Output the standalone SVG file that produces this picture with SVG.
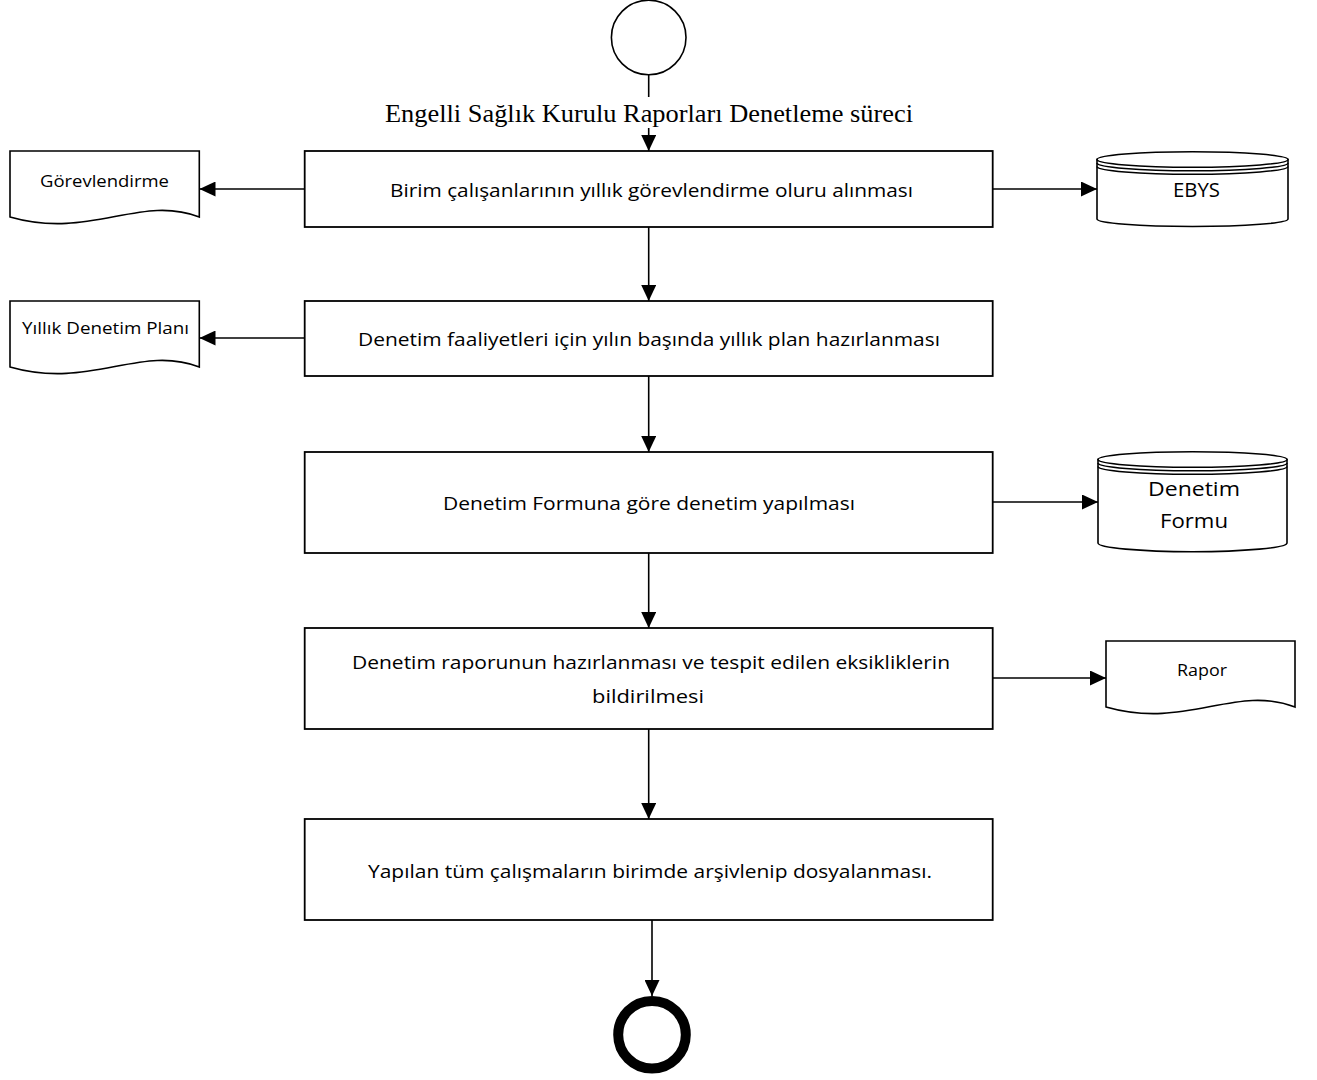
<svg xmlns="http://www.w3.org/2000/svg" width="1317" height="1080" viewBox="0 0 1317 1080">
<style>
.box{fill:#fff;stroke:#000;stroke-width:1.8}
.shape{fill:#fff;stroke:#000;stroke-width:1.6}
.line{fill:none;stroke:#000;stroke-width:1.6}
.t{font-family:"Open Sans","Noto Sans",sans-serif;font-size:18.5px;fill:#000;text-anchor:middle}
.s{font-family:"Open Sans","Noto Sans",sans-serif;font-size:16px;fill:#000;text-anchor:middle}
.c{font-family:"Open Sans","Noto Sans",sans-serif;font-size:20.5px;fill:#000;text-anchor:middle}
.title{font-family:"Liberation Serif","Times New Roman",serif;font-size:25px;fill:#000;text-anchor:middle}
</style>
<defs>
<marker id="arr" markerWidth="16" markerHeight="15" refX="16" refY="7.5" orient="auto" markerUnits="userSpaceOnUse">
<path d="M0,0 L16,7.5 L0,15 z" fill="#000"/>
</marker>
</defs>
<rect width="1317" height="1080" fill="#fff"/>

<g id="connectors">
<path class="line" d="M648.7,75 V151" marker-end="url(#arr)"/>
<rect x="380" y="97" width="540" height="31" fill="#fff"/>
<text class="title" x="649" y="122" textLength="528" lengthAdjust="spacingAndGlyphs">Engelli Sağlık Kurulu Raporları Denetleme süreci</text>
<path class="line" d="M304.7,189 H199.5" marker-end="url(#arr)"/>
<path class="line" d="M992.7,189 H1097" marker-end="url(#arr)"/>
<path class="line" d="M648.7,227 V301" marker-end="url(#arr)"/>
<path class="line" d="M304.7,338 H199.5" marker-end="url(#arr)"/>
<path class="line" d="M648.7,376 V452" marker-end="url(#arr)"/>
<path class="line" d="M992.7,502 H1098" marker-end="url(#arr)"/>
<path class="line" d="M648.7,553 V628" marker-end="url(#arr)"/>
<path class="line" d="M992.7,678 H1106" marker-end="url(#arr)"/>
<path class="line" d="M648.7,729 V819" marker-end="url(#arr)"/>
<path class="line" d="M652,920 V996" marker-end="url(#arr)"/>
</g>

<g id="start">
<circle cx="648.7" cy="37.5" r="37.3" class="shape"/>
</g>

<g id="box1">
<rect class="box" x="304.7" y="151" width="688" height="76"/>
<text class="t" x="651.5" y="197" textLength="523" lengthAdjust="spacingAndGlyphs">Birim çalışanlarının yıllık görevlendirme oluru alınması</text>
</g>
<g id="box2">
<rect class="box" x="304.7" y="301" width="688" height="75"/>
<text class="t" x="649" y="346" textLength="582" lengthAdjust="spacingAndGlyphs">Denetim faaliyetleri için yılın başında yıllık plan hazırlanması</text>
</g>
<g id="box3">
<rect class="box" x="304.7" y="452" width="688" height="101"/>
<text class="t" x="649" y="510" textLength="412" lengthAdjust="spacingAndGlyphs">Denetim Formuna göre denetim yapılması</text>
</g>
<g id="box4">
<rect class="box" x="304.7" y="628" width="688" height="101"/>
<text class="t" x="651" y="669" textLength="598" lengthAdjust="spacingAndGlyphs">Denetim raporunun hazırlanması ve tespit edilen eksikliklerin</text>
<text class="t" x="648" y="703" textLength="112" lengthAdjust="spacingAndGlyphs">bildirilmesi</text>
</g>
<g id="box5">
<rect class="box" x="304.7" y="819" width="688" height="101"/>
<text class="t" x="650" y="878" textLength="564" lengthAdjust="spacingAndGlyphs">Yapılan tüm çalışmaların birimde arşivlenip dosyalanması.</text>
</g>

<g id="doc-gorevlendirme">
<path class="shape" d="M10,151 H199.3 V217 C140,194 90,240 10,217 Z"/>
<text class="s" x="104.5" y="187" textLength="129" lengthAdjust="spacingAndGlyphs">Görevlendirme</text>
</g>
<g id="doc-plan">
<path class="shape" d="M10,301 H199.3 V367 C140,344 90,390 10,367 Z"/>
<text class="s" x="105.5" y="334" textLength="167" lengthAdjust="spacingAndGlyphs">Yıllık Denetim Planı</text>
</g>
<g id="doc-rapor">
<path class="shape" d="M1106,641 H1295 V707 C1235,684 1186,730 1106,707 Z"/>
<text class="s" x="1202" y="676" textLength="50" lengthAdjust="spacingAndGlyphs">Rapor</text>
</g>

<g id="db-ebys">
<path class="shape" d="M1097,159.5 V219 A95.5,7.5 0 0 0 1288,219 V159.5 Z"/>
<ellipse class="shape" cx="1192.5" cy="159.5" rx="95.5" ry="7.8"/>
<path class="line" d="M1097,163 A95.5,7.8 0 0 0 1288,163 M1097,166.5 A95.5,7.8 0 0 0 1288,166.5"/>
<text class="c" x="1196.5" y="197" textLength="47" lengthAdjust="spacingAndGlyphs">EBYS</text>
</g>
<g id="db-denetim-formu">
<path class="shape" d="M1098,459.5 V543 A94.5,8.7 0 0 0 1287,543 V459.5 Z"/>
<ellipse class="shape" cx="1192.5" cy="459.5" rx="94.5" ry="7.8"/>
<path class="line" d="M1098,463 A94.5,7.8 0 0 0 1287,463 M1098,466.5 A94.5,7.8 0 0 0 1287,466.5"/>
<text class="c" x="1194" y="496" textLength="92" lengthAdjust="spacingAndGlyphs">Denetim</text>
<text class="c" x="1194" y="528" textLength="68" lengthAdjust="spacingAndGlyphs">Formu</text>
</g>

<g id="end">
<circle cx="652" cy="1034.7" r="33.8" fill="#fff" stroke="#000" stroke-width="10"/>
</g>
</svg>
